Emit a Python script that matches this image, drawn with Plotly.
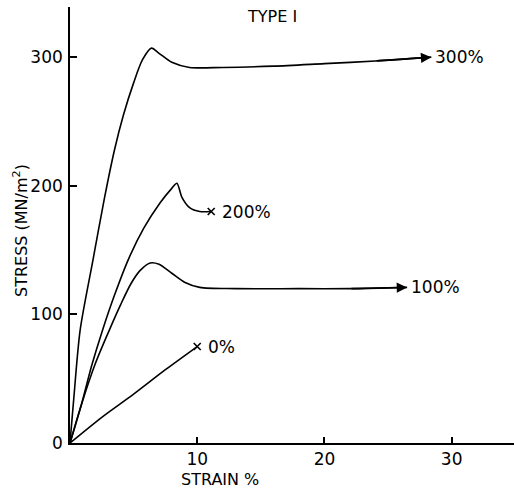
import plotly.graph_objects as go

# Data (strain %, stress MN/m^2)
s300_x = [0, 0.3, 0.8, 1.8, 2.7, 3.5, 4.2, 5.0, 5.7, 6.4, 7.0, 8.0, 9.4, 12, 16, 20, 24, 28.4]
s300_y = [0, 35, 88, 142, 190, 228, 255, 280, 298, 307, 303, 296, 292, 292, 293, 295, 297, 300]

s200_x = [0, 0.9, 1.7, 2.5, 3.5, 4.6, 5.8, 7.1, 8.0, 8.4, 8.8, 9.4, 10.2, 11.1]
s200_y = [0, 30, 60, 86, 115, 143, 167, 187, 198, 202, 191, 183, 180, 180]

s100_x = [0, 0.9, 2.0, 3.1, 4.0, 4.8, 5.5, 6.3, 7.0, 8.0, 9.0, 10.2, 13, 18, 22, 26.5]
s100_y = [0, 30, 62, 88, 108, 124, 134, 140, 139, 132, 125, 121, 120, 120, 120, 121]

s0_x = [0, 2.5, 5, 7.5, 10.0]
s0_y = [0, 20, 38, 57, 75]

labels = ["300%", "200%", "100%", "0%"]
x_ticks = [10, 20, 30]
y_ticks = [0, 100, 200, 300]

FONT = "DejaVu Sans"
W, H = 514, 489
L, R, T, B = 70, 0, 7, 46


def px_to_paper(px, py):
    return (px - L) / (W - L - R), 1 - (py - T) / (H - T - B)


fig = go.Figure()

line = dict(color="black", width=1.6, shape="spline", smoothing=0.8)
for xs, ys in [(s300_x, s300_y), (s200_x, s200_y), (s100_x, s100_y), (s0_x, s0_y)]:
    fig.add_trace(go.Scatter(x=xs, y=ys, mode="lines", line=line, showlegend=False, hoverinfo="skip"))

# x markers at fracture
fig.add_trace(go.Scatter(x=[s200_x[-1], s0_x[-1]], y=[s200_y[-1], s0_y[-1]], mode="markers",
                         marker=dict(symbol="x-thin", size=7, line=dict(color="black", width=1.6)),
                         showlegend=False, hoverinfo="skip"))

# arrows at ends of 300% and 100%
for xs, ys in [(s300_x, s300_y), (s100_x, s100_y)]:
    fig.add_annotation(x=xs[-1], y=ys[-1], ax=xs[-2], ay=ys[-2], axref="x", ayref="y",
                       xref="x", yref="y", text="", showarrow=True, arrowhead=2,
                       arrowsize=1.3, arrowwidth=1.6, arrowcolor="black")

# curve labels
label_pos = [(s300_x[-1] + 0.15, s300_y[-1]), (s200_x[-1] + 0.7, s200_y[-1]),
             (s100_x[-1] + 0.15, s100_y[-1]), (s0_x[-1] + 0.7, s0_y[-1])]
for t, (lx, ly) in zip(labels, label_pos):
    fig.add_annotation(x=lx, y=ly, text=t, showarrow=False, xanchor="left", yanchor="middle",
                       font=dict(family=FONT, size=17, color="black"))

# title and axis titles
px, py = px_to_paper(272, 17)
fig.add_annotation(x=px, y=py, xref="paper", yref="paper", text="TYPE I", showarrow=False,
                   xanchor="center", yanchor="middle",
                   font=dict(family=FONT, size=16, color="black"))
tx, ty = px_to_paper(220, 479)
fig.add_annotation(x=tx, y=ty, xref="paper", yref="paper", text="STRAIN %", showarrow=False,
                   xanchor="center", yanchor="middle",
                   font=dict(family=FONT, size=16, color="black"))
yx, yy = px_to_paper(20, 231)
fig.add_annotation(x=yx, y=yy, xref="paper", yref="paper", text="STRESS (MN/m<sup>2</sup>)",
                   showarrow=False, textangle=-90, xanchor="center", yanchor="middle",
                   font=dict(family=FONT, size=16, color="black"))

fig.update_layout(
    width=W, height=H,
    margin=dict(l=L, r=R, t=T, b=B),
    paper_bgcolor="white", plot_bgcolor="white",
    xaxis=dict(range=[0, 34.9], tickvals=x_ticks, ticks="inside", ticklen=6, tickwidth=1.5,
               tickcolor="black", showline=True, linecolor="black", linewidth=1.6,
               showgrid=False, zeroline=False, ticklabelstandoff=0,
               tickfont=dict(family=FONT, size=17, color="black")),
    yaxis=dict(range=[0, 339], tickvals=y_ticks, ticks="inside", ticklen=7, tickwidth=1.5,
               tickcolor="black", showline=True, linecolor="black", linewidth=1.6,
               showgrid=False, zeroline=False, ticklabelstandoff=2,
               tickfont=dict(family=FONT, size=17, color="black")),
)

fig.write_html("out.html")
